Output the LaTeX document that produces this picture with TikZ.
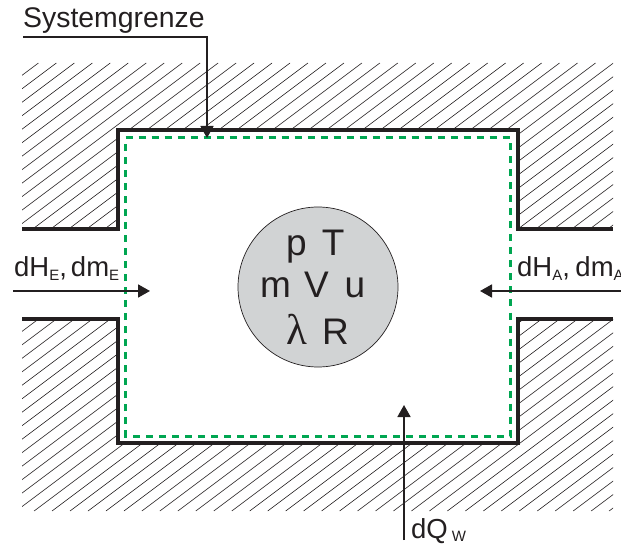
\documentclass[tikz,border=0pt]{standalone}
\usepackage{fontspec}
\setmainfont{Liberation Sans}
\newfontfamily\lamfont{Liberation Serif}
\usetikzlibrary{arrows.meta}
\definecolor{ink}{HTML}{231F20}
\definecolor{grenze}{HTML}{00A651}
\definecolor{ball}{HTML}{D1D3D4}
\newcommand{\lowidx}[1]{\raisebox{-3.5pt}{\fontsize{15}{15}\selectfont #1}}
\tikzset{
  wall/.style={draw=ink,line width=3.3pt,line cap=butt,line join=miter},
  hatchline/.style={draw=ink,line width=0.6pt},
  limitline/.style={draw=grenze,line width=3pt,dash pattern=on 7pt off 6pt},
  flow/.style={draw=ink,line width=1.8pt,-{Triangle[length=12pt,width=13pt]}},
  lbl/.style={anchor=base west,inner sep=0pt,text=ink,font=\fontsize{27.5}{28}\selectfont},
  var/.style={anchor=base west,inner sep=0pt,text=ink,font=\fontsize{37}{37}\selectfont}
}
\begin{document}
\begin{tikzpicture}[x=1pt,y=-1pt]
\useasboundingbox (0,0) rectangle (621,545);
\clip (0,0) rectangle (621,545);
% hatching
\begin{scope}
\clip (22,63) -- (613,63) -- (613,229) -- (518,229) -- (518,130) -- (118,130) -- (118,229) -- (22,229) -- cycle
      (22,319) -- (118,319) -- (118,443) -- (518,443) -- (518,319) -- (613,319) -- (613,511) -- (22,511) -- cycle;
\foreach \k in {-3,...,70}{
  \pgfmathsetmacro{\cc}{140.4+17.97*\k}
  \draw[hatchline] ({\cc-63/0.75},63) -- ({\cc-511/0.75},511);
}
\end{scope}
% walls
\coordinate (w1) at (22,229); \coordinate (w2) at (118,229); \coordinate (w3) at (118,130);
\coordinate (w4) at (518,130); \coordinate (w5) at (518,229); \coordinate (w6) at (613,229);
\coordinate (w7) at (22,319); \coordinate (w8) at (118,319); \coordinate (w9) at (118,443);
\coordinate (w10) at (518,443); \coordinate (w11) at (518,319); \coordinate (w12) at (613,319);
\draw[wall] (w1) -- (w2) -- (w3) -- (w4) -- (w5) -- (w6);
\draw[wall] (w7) -- (w8) -- (w9) -- (w10) -- (w11) -- (w12);
% system boundary
\coordinate (g1) at (125.5,138); \coordinate (g2) at (510,138);
\coordinate (g3) at (510,436); \coordinate (g4) at (125.5,436);
\draw[limitline] (g1) -- (g2) -- (g3) -- (g4) -- cycle;
% state ball
\node[circle,draw=ink,line width=0.7pt,fill=ball,minimum size=160pt,inner sep=0pt] (ball) at (318,287) {};
\node[var] (pt) at (286,256) {p\hspace{15pt}T};
\node[var] (mvu) at (260,298) {m\hspace{13pt}V\hspace{16pt}u};
\node[var] (lr) at (286,344) {{\lamfont\fontsize{43}{43}\selectfont λ}\hspace{15pt}R};
% labels
\node[lbl,font=\fontsize{28.4}{28}\selectfont] (sys) at (23,28) {Systemgrenze};
\node[lbl] (he) at (14,277) {dH\lowidx{E},\hspace{4pt}dm\lowidx{E}};
\node[lbl] (ha) at (517,277) {dH\lowidx{A},\hspace{5.5pt}dm\lowidx{A}};
\node[lbl] (qw) at (411,538) {dQ\hspace{4pt}\lowidx{W}};
% connectors
\coordinate (s1) at (23,37); \coordinate (s2) at (207,37); \coordinate (s3) at (207,138);
\draw[flow,line join=miter] (s1) -- (s2) -- (s3);
\coordinate (e1) at (13,291); \coordinate (e2) at (150,291);
\draw[flow] (e1) -- (e2);
\coordinate (a1) at (621,291); \coordinate (a2) at (480,291);
\draw[flow] (a1) -- (a2);
\coordinate (q1) at (404,540); \coordinate (q2) at (404,405);
\draw[flow] (q1) -- (q2);
\end{tikzpicture}
\end{document}
